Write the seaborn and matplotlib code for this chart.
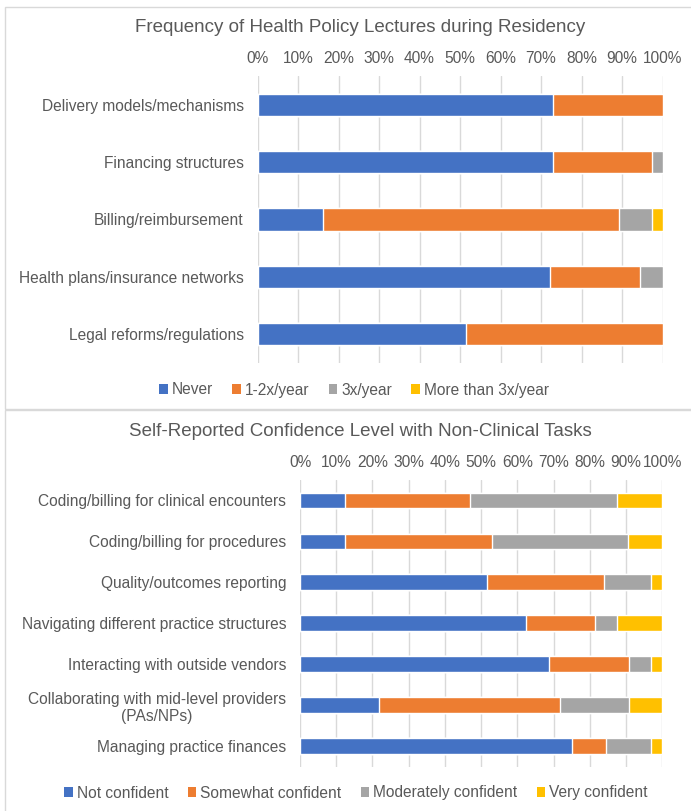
import numpy as np
import pandas as pd
import matplotlib
matplotlib.use("Agg")
import matplotlib.pyplot as plt
from matplotlib.patches import Patch, Rectangle
import seaborn as sns

# ---------------- data ----------------
freq_categories = ["Delivery models/mechanisms", "Financing structures", "Billing/reimbursement",
                   "Health plans/insurance networks", "Legal reforms/regulations"]
freq_series = ["Never", "1-2x/year", "3x/year", "More than 3x/year"]
freq_never = [73.0, 73.0, 16.2, 72.3, 51.4]
freq_1_2 = [27.0, 24.3, 73.0, 22.2, 48.6]
freq_3 = [0.0, 2.7, 8.1, 5.5, 0.0]
freq_more = [0.0, 0.0, 2.7, 0.0, 0.0]

conf_categories = ["Coding/billing for clinical encounters", "Coding/billing for procedures",
                   "Quality/outcomes reporting", "Navigating different practice structures",
                   "Interacting with outside vendors",
                   "Collaborating with mid-level providers\n(PAs/NPs)", "Managing practice finances"]
conf_series = ["Not confident", "Somewhat confident", "Moderately confident", "Very confident"]
conf_not = [12.5, 12.5, 51.6, 62.5, 68.8, 21.9, 75.0]
conf_somewhat = [34.4, 40.6, 32.3, 18.8, 21.9, 50.0, 9.4]
conf_moderately = [40.6, 37.5, 12.9, 6.2, 6.2, 18.8, 12.5]
conf_very = [12.5, 9.4, 3.2, 12.5, 3.1, 9.3, 3.1]

tick_values = list(range(0, 101, 10))
tick_labels = [f"{v}%" for v in tick_values]

colors = ["#4472C4", "#ED7D31", "#A5A5A5", "#FFC000"]
TXT = "#595959"
GRID = "#D9D9D9"

sns.set_theme(style="white")
plt.rcParams["font.family"] = ["Liberation Sans", "DejaVu Sans"]

W, H = 691, 811
fig = plt.figure(figsize=(W / 100, H / 100), dpi=100)


def fx(px):
    return px / W


def fy(py):
    return 1 - py / H


def stacked(ax, cats, series_vals, names):
    cum = np.cumsum(np.array(series_vals, dtype=float), axis=0)
    for i in range(len(names) - 1, -1, -1):
        df = pd.DataFrame({"cat": cats, "val": cum[i]})
        sns.barplot(data=df, x="val", y="cat", orient="h", color=colors[i],
                    width=0.385, saturation=1, ax=ax, zorder=3)
    ax.set_xlim(0, 100)
    ax.set_ylim(len(cats) - 0.5, -0.5)
    ax.set_xticks(tick_values)
    ax.set_xticklabels(tick_labels)
    ax.xaxis.tick_top()
    ax.set_xlabel("")
    ax.set_ylabel("")
    ax.grid(axis="x", color=GRID, linewidth=1.0)
    ax.grid(axis="y", visible=False)
    ax.set_axisbelow(True)
    for s in ax.spines.values():
        s.set_visible(False)
    ax.tick_params(axis="x", length=0, pad=7, labelsize=11.2, labelcolor=TXT)
    ax.tick_params(axis="y", length=0, pad=10, labelsize=11.2, labelcolor=TXT)
    for lbl in ax.get_yticklabels():
        lbl.set_multialignment("center")
    ax.patch.set_alpha(0)


# panel frames
fig.patches.append(Rectangle((fx(5.5), fy(408.5)), fx(694) - fx(5.5), fy(6.5) - fy(408.5),
                             transform=fig.transFigure, fill=False, edgecolor=GRID, linewidth=1.0))
fig.patches.append(Rectangle((fx(5.5), fy(815)), fx(694) - fx(5.5), fy(410.5) - fy(815),
                             transform=fig.transFigure, fill=False, edgecolor=GRID, linewidth=1.0))

# ---------------- panel 1 ----------------
ax1 = fig.add_axes([fx(257.5), fy(363), fx(662.5) - fx(257.5), fy(76) - fy(363)])
stacked(ax1, freq_categories, [freq_never, freq_1_2, freq_3, freq_more], freq_series)
fig.text(fx(360), fy(28), "Frequency of Health Policy Lectures during Residency",
         ha="center", va="center", fontsize=13.5, color=TXT)
h1 = [Patch(facecolor=c, edgecolor="none", label=n) for c, n in zip(colors, freq_series)]
fig.legend(handles=h1, loc="center", bbox_to_anchor=(fx(354), fy(390)), ncol=4, frameon=False,
           fontsize=11.2, labelcolor=TXT, handlelength=0.55, handleheight=0.55,
           handletextpad=0.25, columnspacing=1.25, borderpad=0, borderaxespad=0)

# ---------------- panel 2 ----------------
ax2 = fig.add_axes([fx(300), fy(766.5), fx(662.3) - fx(300), fy(480) - fy(766.5)])
stacked(ax2, conf_categories, [conf_not, conf_somewhat, conf_moderately, conf_very], conf_series)
fig.text(fx(360), fy(432), "Self-Reported Confidence Level with Non-Clinical Tasks",
         ha="center", va="center", fontsize=13.5, color=TXT)
h2 = [Patch(facecolor=c, edgecolor="none", label=n) for c, n in zip(colors, conf_series)]
fig.legend(handles=h2, loc="center", bbox_to_anchor=(fx(356), fy(793)), ncol=4, frameon=False,
           fontsize=11.2, labelcolor=TXT, handlelength=0.55, handleheight=0.55,
           handletextpad=0.25, columnspacing=1.25, borderpad=0, borderaxespad=0)

fig.savefig("out.png", dpi=100, facecolor="white")
